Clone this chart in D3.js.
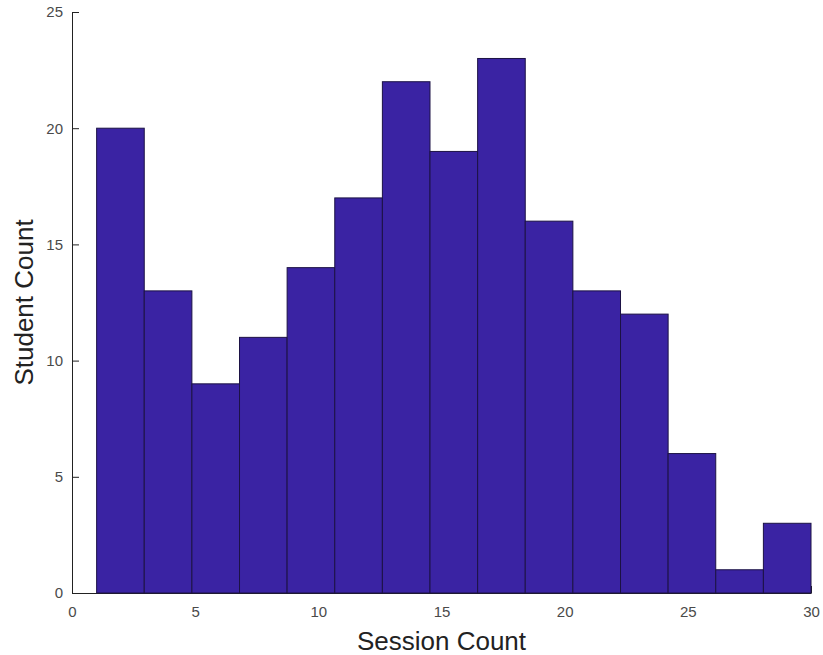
<!DOCTYPE html>
<html>
<head>
<meta charset="utf-8">
<script src="https://cdn.jsdelivr.net/npm/d3@7"></script>
<style>
  body { margin: 0; background: #fff; }
  .tick text { font-family: "Liberation Sans", Arial, sans-serif; font-size: 15px; fill: #4a4a4a; }
  .title { font-family: "Liberation Sans", Arial, sans-serif; font-size: 26px; fill: #222; }
</style>
</head>
<body>
<div id="chart"></div>
<script>
// histogram bins (session count) and their counts
const binEdges = [1, 2.933, 4.867, 6.8, 8.733, 10.667, 12.6, 14.533, 16.467, 18.4, 20.333, 22.267, 24.2, 26.133, 28.067, 30];
const counts = [20, 13, 9, 11, 14, 17, 22, 19, 23, 16, 13, 12, 6, 1, 3];
const xTicks = [0, 5, 10, 15, 20, 25, 30];
const yTicks = [0, 5, 10, 15, 20, 25];

let width = 823,
    height = 655,
    plotLeft = 72,
    plotRight = 811,
    plotTop = 12,
    plotBottom = 593;

let bins = counts.map((c, i) => ({ x0: binEdges[i], x1: binEdges[i + 1], count: c }));

/* Scale */
let xScale = d3.scaleLinear().domain([0, 30]).range([plotLeft, plotRight]);
let yScale = d3.scaleLinear().domain([0, 25]).range([plotBottom, plotTop]);

/* Add SVG */
let svg = d3.select("#chart").append("svg")
    .attr("width", width)
    .attr("height", height);

/* Axes (ticks point inward, like matlab) */
let xAxis = d3.axisBottom(xScale).tickValues(xTicks).tickSizeInner(-7).tickSizeOuter(0).tickPadding(13);
let yAxis = d3.axisLeft(yScale).tickValues(yTicks).tickSizeInner(-7).tickSizeOuter(0).tickPadding(9);

let gx = svg.append("g")
    .attr("transform", `translate(0, ${plotBottom})`)
    .call(xAxis);
gx.selectAll(".domain, .tick line").attr("stroke", "#222");

let gy = svg.append("g")
    .attr("transform", `translate(${plotLeft}, 0)`)
    .call(yAxis);
gy.selectAll(".domain, .tick line").attr("stroke", "#222");

/* Bars */
svg.append("g")
    .selectAll("rect")
    .data(bins).enter()
    .append("rect")
    .attr("x", d => xScale(d.x0))
    .attr("y", d => yScale(d.count))
    .attr("width", d => xScale(d.x1) - xScale(d.x0))
    .attr("height", d => yScale(0) - yScale(d.count))
    .attr("fill", "#3a23a3")
    .attr("stroke", "#1c1245")
    .attr("stroke-width", 1);

/* Labels */
svg.append("text")
    .attr("class", "title")
    .attr("x", (plotLeft + plotRight) / 2)
    .attr("y", 650)
    .attr("text-anchor", "middle")
    .text("Session Count");

svg.append("text")
    .attr("class", "title")
    .attr("transform", `translate(33, ${(plotTop + plotBottom) / 2}) rotate(-90)`)
    .attr("text-anchor", "middle")
    .text("Student Count");
</script>
</body>
</html>
